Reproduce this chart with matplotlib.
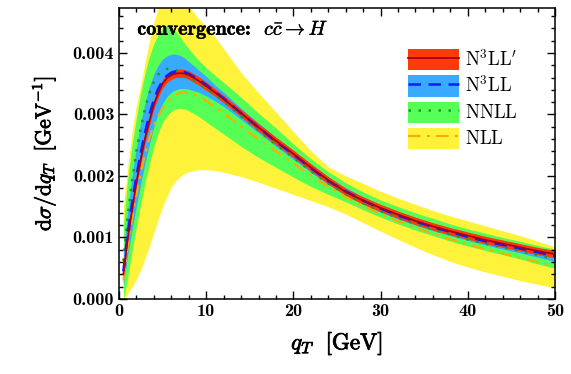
import matplotlib
matplotlib.use("Agg")
import matplotlib.pyplot as plt
import matplotlib.patheffects as pe
from matplotlib.patches import Patch
from matplotlib.lines import Line2D
from matplotlib.ticker import MultipleLocator, FormatStrFormatter

plt.rcParams['mathtext.fontset'] = 'cm'
plt.rcParams['axes.unicode_minus'] = False

# q_T grid [GeV]
qt = [0.5, 1, 1.5, 2, 2.5, 3, 3.5, 4, 4.5, 5, 5.5, 6, 6.5, 7, 7.5, 8, 9, 10, 11, 12,
      14, 16, 18, 20, 22, 24, 26, 28, 30, 32, 34, 36, 38, 40, 42, 44, 46, 48, 50]

# dsigma/dqT in units of 1e-3 GeV^-1
# N3LL' (central + band)
n3llp = [0.40, 0.98, 1.45, 1.90, 2.28, 2.62, 2.90, 3.16, 3.35, 3.50, 3.59, 3.64, 3.665, 3.67, 3.665,
         3.64, 3.56, 3.46, 3.36, 3.25, 3.02, 2.79, 2.57, 2.36, 2.14, 1.93, 1.74, 1.60, 1.48, 1.37,
         1.27, 1.18, 1.10, 1.03, 0.96, 0.90, 0.84, 0.78, 0.73]
n3llp_hi = [0.47, 1.05, 1.52, 1.97, 2.35, 2.69, 2.97, 3.23, 3.42, 3.57, 3.66, 3.71, 3.73, 3.74, 3.73,
            3.71, 3.63, 3.53, 3.42, 3.31, 3.08, 2.85, 2.63, 2.42, 2.20, 1.99, 1.80, 1.66, 1.54, 1.43,
            1.33, 1.24, 1.16, 1.09, 1.02, 0.96, 0.90, 0.84, 0.79]
n3llp_lo = [0.33, 0.91, 1.38, 1.83, 2.21, 2.55, 2.83, 3.09, 3.28, 3.43, 3.52, 3.57, 3.60, 3.60, 3.60,
            3.57, 3.49, 3.39, 3.30, 3.19, 2.96, 2.73, 2.51, 2.30, 2.08, 1.87, 1.68, 1.54, 1.42, 1.31,
            1.21, 1.12, 1.04, 0.97, 0.90, 0.84, 0.78, 0.72, 0.67]

# N3LL
n3ll = [0.45, 1.06, 1.55, 2.00, 2.38, 2.72, 3.00, 3.24, 3.42, 3.55, 3.63, 3.68, 3.70, 3.70, 3.69,
        3.66, 3.58, 3.48, 3.37, 3.26, 3.02, 2.79, 2.56, 2.35, 2.13, 1.92, 1.75, 1.60, 1.47, 1.36,
        1.26, 1.17, 1.09, 1.01, 0.94, 0.88, 0.82, 0.76, 0.70]
n3ll_hi = [0.75, 1.45, 2.00, 2.48, 2.88, 3.20, 3.46, 3.66, 3.80, 3.90, 3.95, 3.98, 3.98, 3.96, 3.92,
           3.86, 3.74, 3.62, 3.48, 3.36, 3.10, 2.86, 2.63, 2.41, 2.19, 1.98, 1.81, 1.66, 1.53, 1.42,
           1.32, 1.23, 1.15, 1.07, 1.00, 0.94, 0.88, 0.82, 0.76]
n3ll_lo = [0.22, 0.72, 1.12, 1.52, 1.88, 2.22, 2.52, 2.80, 3.02, 3.18, 3.29, 3.36, 3.40, 3.42, 3.42,
           3.41, 3.37, 3.30, 3.22, 3.13, 2.92, 2.70, 2.48, 2.27, 2.06, 1.86, 1.69, 1.54, 1.41, 1.30,
           1.20, 1.11, 1.03, 0.95, 0.88, 0.81, 0.75, 0.68, 0.61]

# NNLL
nnll = [0.62, 1.35, 1.92, 2.40, 2.78, 3.10, 3.35, 3.53, 3.65, 3.71, 3.74, 3.74, 3.72, 3.69, 3.65,
        3.61, 3.52, 3.42, 3.32, 3.21, 2.97, 2.74, 2.51, 2.30, 2.08, 1.88, 1.71, 1.56, 1.43, 1.32,
        1.22, 1.13, 1.05, 0.97, 0.90, 0.84, 0.78, 0.71, 0.65]
nnll_hi = [1.20, 1.95, 2.50, 2.95, 3.35, 3.68, 3.95, 4.15, 4.30, 4.40, 4.45, 4.43, 4.35, 4.26, 4.16,
           4.07, 3.90, 3.76, 3.64, 3.52, 3.28, 3.02, 2.78, 2.52, 2.28, 2.07, 1.89, 1.74, 1.61, 1.50,
           1.40, 1.31, 1.22, 1.14, 1.07, 1.00, 0.94, 0.87, 0.81]
nnll_lo = [0.00, 0.35, 0.78, 1.18, 1.55, 1.90, 2.20, 2.48, 2.70, 2.87, 2.98, 3.05, 3.09, 3.10, 3.09,
           3.06, 2.98, 2.88, 2.78, 2.68, 2.48, 2.30, 2.14, 1.98, 1.83, 1.70, 1.58, 1.45, 1.33, 1.22,
           1.12, 1.03, 0.94, 0.86, 0.79, 0.72, 0.65, 0.57, 0.50]

# NLL
nll = [0.30, 0.85, 1.30, 1.70, 2.05, 2.36, 2.62, 2.82, 2.98, 3.10, 3.20, 3.27, 3.32, 3.35, 3.36,
       3.35, 3.30, 3.22, 3.12, 3.02, 2.80, 2.60, 2.40, 2.20, 2.01, 1.82, 1.66, 1.51, 1.38, 1.26,
       1.16, 1.06, 0.97, 0.89, 0.81, 0.74, 0.67, 0.60, 0.54]
nll_hi = [1.50, 2.15, 2.72, 3.15, 3.48, 3.86, 4.20, 4.50, 4.72, 4.90, 5.02, 5.08, 5.06, 4.98, 4.88,
          4.76, 4.58, 4.42, 4.26, 4.07, 3.68, 3.35, 3.04, 2.72, 2.41, 2.15, 2.00, 1.88, 1.75, 1.64,
          1.54, 1.44, 1.35, 1.27, 1.19, 1.11, 1.03, 0.94, 0.85]
nll_lo = [0.00, 0.08, 0.20, 0.32, 0.48, 0.66, 0.86, 1.08, 1.30, 1.50, 1.67, 1.82, 1.92, 1.99, 2.04,
          2.07, 2.10, 2.10, 2.09, 2.06, 1.99, 1.90, 1.80, 1.70, 1.60, 1.50, 1.38, 1.24, 1.10, 0.97,
          0.84, 0.72, 0.61, 0.52, 0.44, 0.37, 0.30, 0.24, 0.18]

labels = [r"$\mathrm{N}^3\mathrm{LL}^{\prime}$", r"$\mathrm{N}^3\mathrm{LL}$",
          r"$\mathrm{NNLL}$", r"$\mathrm{NLL}$"]
band_colors = ["#FF3A0A", "#38AAFF", "#55FF55", "#FFF23A"]
line_colors = ["#A8001A", "#0A1EFF", "#1E9B28", "#FFAA00"]
line_styles = ['-', (0, (5, 3)), (0, (1, 3)), (0, (6, 3, 1.5, 3))]
line_widths = [1.3, 1.8, 1.8, 1.5]


def sc(v):
    return [x * 1e-3 for x in v]


fig = plt.figure(figsize=(5.71, 3.74), dpi=100)
ax = fig.add_axes([119 / 571, 1 - 299 / 374, (555 - 119) / 571, (299 - 8) / 374])

ax.fill_between(qt, sc(nll_lo), sc(nll_hi), color=band_colors[3], lw=0)
ax.fill_between(qt, sc(nnll_lo), sc(nnll_hi), color=band_colors[2], lw=0)
ax.fill_between(qt, sc(n3ll_lo), sc(n3ll_hi), color=band_colors[1], lw=0)

ax.plot(qt, sc(nll), color=line_colors[3], lw=line_widths[3], ls=line_styles[3])
ax.plot(qt, sc(nnll), color=line_colors[2], lw=line_widths[2], ls=line_styles[2])
ax.plot(qt, sc(n3ll), color=line_colors[1], lw=line_widths[1], ls=line_styles[1])

ax.fill_between(qt, sc(n3llp_lo), sc(n3llp_hi), color=band_colors[0], lw=0)
ax.plot(qt, sc(n3llp), color=line_colors[0], lw=line_widths[0])

ax.set_xlim(0, 50)
ax.set_ylim(0, 4.73e-3)
ax.xaxis.set_major_locator(MultipleLocator(10))
ax.xaxis.set_minor_locator(MultipleLocator(2))
ax.yaxis.set_major_locator(MultipleLocator(0.001))
ax.yaxis.set_minor_locator(MultipleLocator(0.0002))
ax.yaxis.set_major_formatter(FormatStrFormatter('%.3f'))
ax.tick_params(which='both', direction='in', top=True, right=True, width=1.0)
ax.tick_params(which='major', length=6)
ax.tick_params(which='minor', length=3)
for lab in ax.get_xticklabels() + ax.get_yticklabels():
    lab.set_fontfamily('cmb10')
    lab.set_fontsize(13)
for s in ax.spines.values():
    s.set_linewidth(1.1)

bold = [pe.withStroke(linewidth=0.6, foreground='black')]
xl = ax.set_xlabel(r"$q_T\ \ [\mathrm{GeV}]$", fontsize=16.5, labelpad=9)
yl = ax.set_ylabel(r"$\mathrm{d}\sigma/\mathrm{d}q_T\ \ [\mathrm{GeV}^{-1}]$", fontsize=15.5, labelpad=10)
xl.set_path_effects(bold)
yl.set_path_effects(bold)

t = ax.text(0.042, 0.925, r"convergence:  $c\bar{c}\rightarrow H$", transform=ax.transAxes,
            fontsize=14.5, fontfamily='cmb10', va='center', ha='left')
t.set_path_effects([pe.withStroke(linewidth=0.3, foreground='black')])

handles = [(Patch(facecolor=band_colors[i], edgecolor='none'),
            Line2D([], [], color=line_colors[i], lw=line_widths[i], ls=line_styles[i]))
           for i in range(4)]
fig.legend(handles, labels, loc='upper left', bbox_to_anchor=(408 / 571, 1 - 49 / 374),
           frameon=False, fontsize=13.5, handlelength=2.7, handleheight=1.35, labelspacing=0.27,
           handletextpad=0.35, borderpad=0, borderaxespad=0)

fig.savefig("out.png", dpi=100)
